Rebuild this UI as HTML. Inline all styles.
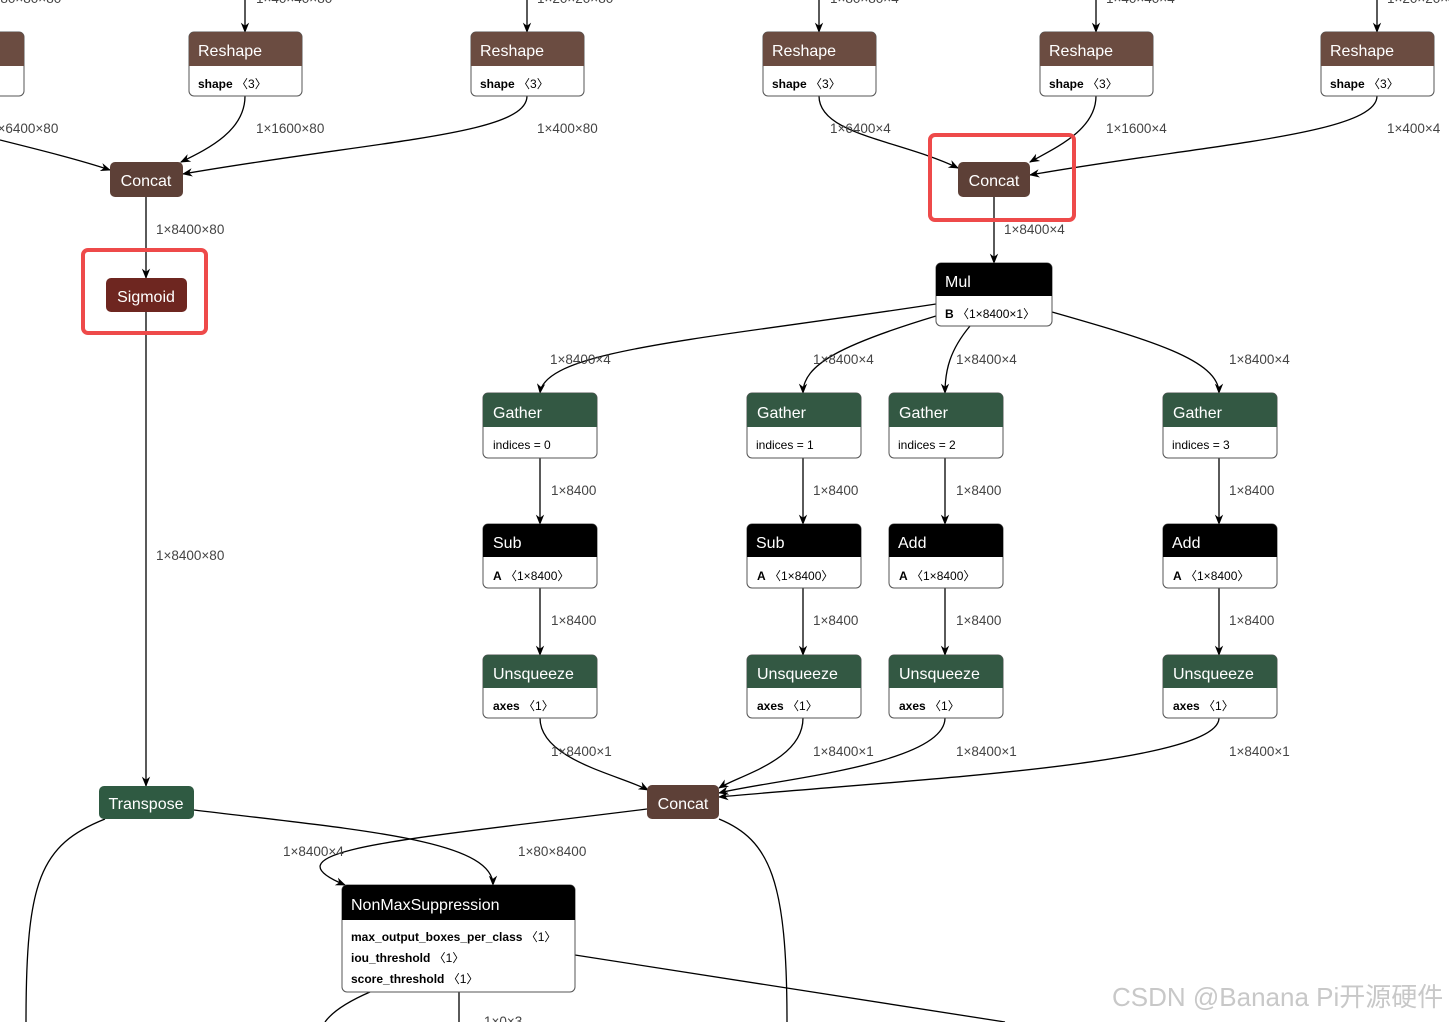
<!DOCTYPE html>
<html><head><meta charset="utf-8"><style>
body{margin:0;background:#fff;}
svg{display:block;font-family:"Liberation Sans","Noto Sans CJK SC",sans-serif;}
.l{font-size:13.5px;fill:#444;}
.h{font-size:16px;fill:#fff;}
.b{font-size:12px;fill:#000;}
.e{fill:none;stroke:#000;stroke-width:1.3;}
</style></head><body>
<svg width="1449" height="1022" viewBox="0 0 1449 1022">
<defs><marker id="a" viewBox="0 0 10 10" refX="9" refY="5" markerWidth="8" markerHeight="8" orient="auto-start-reverse"><path d="M0,1 L10,5 L0,9 L3,5z" fill="#000"/></marker></defs>

<g class="e" marker-end="url(#a)">
<path d="M245,0 V32"/><path d="M527,0 V32"/><path d="M819,0 V32"/><path d="M1096,0 V32"/><path d="M1377,0 V32"/>
<path d="M0,140 C40,150 80,160 110,170"/>
<path d="M245,96 C245,130 210,148 181,162"/>
<path d="M527,96 C527,135 380,140 183,174"/>
<path d="M819,96 C819,135 900,140 958,168"/>
<path d="M1096,96 C1096,130 1055,148 1030,162"/>
<path d="M1377,96 C1377,135 1200,145 1030,175"/>
<path d="M146,197 V278"/>
<path d="M146,312 V786"/>
<path d="M994,197 V263"/>
<path d="M936,304 C700,340 545,350 540,393"/>
<path d="M936,316 C840,345 803,365 803,393"/>
<path d="M970,326 C950,350 945,370 945,393"/>
<path d="M1052,312 C1150,340 1219,360 1219,393"/>
<path d="M540,458 V524"/><path d="M803,458 V524"/><path d="M945,458 V524"/><path d="M1219,458 V524"/>
<path d="M540,588 V655"/><path d="M803,588 V655"/><path d="M945,588 V655"/><path d="M1219,588 V655"/>
<path d="M540,718 C540,760 620,775 648,790"/>
<path d="M803,718 C803,760 740,775 719,788"/>
<path d="M945,718 C945,765 770,780 719,793"/>
<path d="M1219,718 C1219,765 900,780 719,797"/>
<path d="M194,810 C360,830 493,840 493,885"/>
<path d="M647,809 C400,840 260,850 345,885"/>
</g>
<g class="e">
<path d="M105,819 C40,845 26,880 26,1022"/>
<path d="M719,819 C770,840 787,880 787,1022"/>
<path d="M575,955 L1005,1022"/>
<path d="M370,992 C340,1005 330,1015 325,1022"/>
<path d="M459,992 V1022"/>
</g>

<rect x="83" y="250" width="123" height="83" rx="5" fill="none" stroke="#ee4a4a" stroke-width="4"/>
<rect x="930" y="135" width="144" height="85" rx="5" fill="none" stroke="#ee4a4a" stroke-width="4"/>

<g>
<rect x="-90" y="32" width="114" height="64" rx="5" fill="#fff" stroke="#555"/>
<path d="M-90,66 V37 a5,5 0 0 1 5,-5 H19 a5,5 0 0 1 5,5 V66z" fill="#6b4c41"/>
</g>
<g id="rs">
<rect x="189" y="32" width="113" height="64" rx="5" fill="#fff" stroke="#555"/>
<path d="M189,66 V37 a5,5 0 0 1 5,-5 H297 a5,5 0 0 1 5,5 V66z" fill="#6b4c41"/>
<text class="h" x="198" y="56">Reshape</text>
<text class="b" x="198" y="88"><tspan font-weight="bold">shape</tspan> 〈3〉</text>
</g>
<use href="#rs" x="282"/><use href="#rs" x="574"/><use href="#rs" x="851"/><use href="#rs" x="1132"/>

<rect x="110" y="162" width="73" height="35" rx="5" fill="#5d4037"/>
<text class="h" x="146" y="186" text-anchor="middle">Concat</text>
<rect x="958" y="162" width="72" height="35" rx="5" fill="#5d4037"/>
<text class="h" x="994" y="186" text-anchor="middle">Concat</text>
<rect x="106" y="278" width="81" height="34" rx="5" fill="#6e2620"/>
<text class="h" x="146" y="302" text-anchor="middle">Sigmoid</text>
<rect x="647" y="785" width="72" height="34" rx="5" fill="#5d4037"/>
<text class="h" x="683" y="809" text-anchor="middle">Concat</text>
<rect x="99" y="786" width="95" height="33" rx="5" fill="#2f5a42"/>
<text class="h" x="146" y="809" text-anchor="middle">Transpose</text>

<rect x="936" y="263" width="116" height="63" rx="5" fill="#fff" stroke="#555"/>
<path d="M936,296 V268 a5,5 0 0 1 5,-5 H1047 a5,5 0 0 1 5,5 V296z" fill="#000"/>
<text class="h" x="945" y="287">Mul</text>
<text class="b" x="945" y="318"><tspan font-weight="bold">B</tspan> 〈1×8400×1〉</text>

<g id="g0">
<rect x="483" y="393" width="114" height="65" rx="5" fill="#fff" stroke="#555"/>
<path d="M483,427 V398 a5,5 0 0 1 5,-5 H592 a5,5 0 0 1 5,5 V427z" fill="#335843"/>
<text class="h" x="493" y="418">Gather</text>
</g>
<use href="#g0" x="264"/><use href="#g0" x="406"/><use href="#g0" x="680"/>
<text class="b" x="493" y="449">indices = 0</text>
<text class="b" x="756" y="449">indices = 1</text>
<text class="b" x="898" y="449">indices = 2</text>
<text class="b" x="1172" y="449">indices = 3</text>

<g id="s0">
<rect x="483" y="524" width="114" height="64" rx="5" fill="#fff" stroke="#555"/>
<path d="M483,557 V529 a5,5 0 0 1 5,-5 H592 a5,5 0 0 1 5,5 V557z" fill="#000"/>
<text class="b" x="493" y="580"><tspan font-weight="bold">A</tspan> 〈1×8400〉</text>
</g>
<use href="#s0" x="264"/><use href="#s0" x="406"/><use href="#s0" x="680"/>
<text class="h" x="493" y="548">Sub</text>
<text class="h" x="756" y="548">Sub</text>
<text class="h" x="898" y="548">Add</text>
<text class="h" x="1172" y="548">Add</text>

<g id="u0">
<rect x="483" y="655" width="114" height="63" rx="5" fill="#fff" stroke="#555"/>
<path d="M483,688 V660 a5,5 0 0 1 5,-5 H592 a5,5 0 0 1 5,5 V688z" fill="#335843"/>
<text class="h" x="493" y="679">Unsqueeze</text>
<text class="b" x="493" y="710"><tspan font-weight="bold">axes</tspan> 〈1〉</text>
</g>
<use href="#u0" x="264"/><use href="#u0" x="406"/><use href="#u0" x="680"/>

<rect x="342" y="885" width="233" height="107" rx="5" fill="#fff" stroke="#555"/>
<path d="M342,920 V890 a5,5 0 0 1 5,-5 H570 a5,5 0 0 1 5,5 V920z" fill="#000"/>
<text class="h" x="351" y="910">NonMaxSuppression</text>
<text class="b" x="351" y="941"><tspan font-weight="bold">max_output_boxes_per_class</tspan> 〈1〉</text>
<text class="b" x="351" y="962"><tspan font-weight="bold">iou_threshold</tspan> 〈1〉</text>
<text class="b" x="351" y="983"><tspan font-weight="bold">score_threshold</tspan> 〈1〉</text>

<g class="l">
<text x="-15" y="3">1×80×80×80</text><text x="256" y="3">1×40×40×80</text><text x="537" y="3">1×20×20×80</text>
<text x="830" y="3">1×80×80×4</text><text x="1106" y="3">1×40×40×4</text><text x="1387" y="3">1×20×20×4</text>
<text x="-10" y="133">1×6400×80</text><text x="256" y="133">1×1600×80</text><text x="537" y="133">1×400×80</text>
<text x="830" y="133">1×6400×4</text><text x="1106" y="133">1×1600×4</text><text x="1387" y="133">1×400×4</text>
<text x="156" y="234">1×8400×80</text><text x="1004" y="234">1×8400×4</text>
<text x="550" y="364">1×8400×4</text><text x="813" y="364">1×8400×4</text><text x="956" y="364">1×8400×4</text><text x="1229" y="364">1×8400×4</text>
<text x="551" y="495">1×8400</text><text x="813" y="495">1×8400</text><text x="956" y="495">1×8400</text><text x="1229" y="495">1×8400</text>
<text x="551" y="625">1×8400</text><text x="813" y="625">1×8400</text><text x="956" y="625">1×8400</text><text x="1229" y="625">1×8400</text>
<text x="551" y="756">1×8400×1</text><text x="813" y="756">1×8400×1</text><text x="956" y="756">1×8400×1</text><text x="1229" y="756">1×8400×1</text>
<text x="156" y="560">1×8400×80</text>
<text x="283" y="856">1×8400×4</text><text x="518" y="856">1×80×8400</text>
<text x="484" y="1026">1×0×3</text>
</g>
<text x="1112" y="1006" font-size="26" fill="#c8c8c8">CSDN @Banana Pi开源硬件</text>
</svg>
</body></html>
